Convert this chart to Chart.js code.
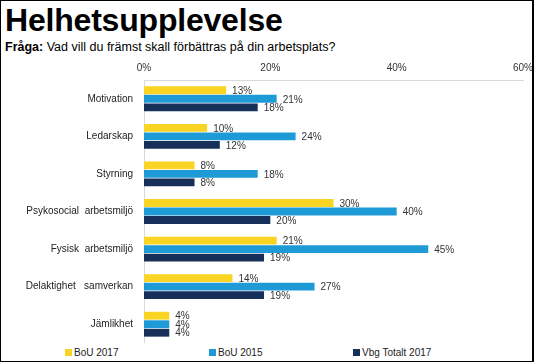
<!DOCTYPE html>
<html>
<head>
<meta charset="utf-8">
<script src="https://cdn.jsdelivr.net/npm/chart.js@4/dist/chart.umd.min.js"></script>
<style>
  body { margin: 0; background: #fff; font-family: "Liberation Sans", Arial, sans-serif; }
  #frame { position: relative; width: 534px; height: 362px; box-sizing: border-box; border: 1px solid #000; border-right-width: 2px; overflow: hidden; }
  #title { position: absolute; left: 4px; top: 1px; font-size: 32px; font-weight: bold; color: #000; letter-spacing: -0.2px; }
  #subtitle { position: absolute; left: 4px; top: 39px; font-size: 12.5px; color: #000; }
  #wrap { position: absolute; left: 0; top: 55px; width: 531px; height: 287px; }
  #legend { position: absolute; left: 64px; top: 346px; display: flex; font-size: 10px; color: #222; }
  #legend div { width: 144px; display: flex; align-items: center; }
  #legend span.box { display: inline-block; width: 7px; height: 7px; margin-right: 2px; }
</style>
</head>
<body>
<div id="frame">
  <div id="title">Helhetsupplevelse</div>
  <div id="subtitle"><b>Fråga:</b> Vad vill du främst skall förbättras på din arbetsplats?</div>
  <div id="wrap"><canvas id="chart"></canvas></div>
  <div id="legend"></div>
</div>
<script>
const categories = ['Motivation', 'Ledarskap', 'Styrning', 'Psykosocial  arbetsmiljö', 'Fysisk  arbetsmiljö', 'Delaktighet   samverkan', 'Jämlikhet'];
const bou2017 = [13, 10, 8, 30, 21, 14, 4];
const bou2015 = [21, 24, 18, 40, 45, 27, 4];
const vbg2017 = [18, 12, 8, 20, 19, 19, 4];
const xTicks = [0, 20, 40, 60];

const colors = ['#F9D423', '#1E9BD7', '#17305A'];
const names = ['BoU 2017', 'BoU 2015', 'Vbg Totalt 2017'];
const fontFamily = '"Liberation Sans", Arial, sans-serif';

// skriver värdet efter varje stapel
const valueLabels = {
  id: 'valueLabels',
  afterDatasetsDraw(chart) {
    const ctx = chart.ctx;
    ctx.save();
    ctx.font = '10px ' + fontFamily;
    ctx.fillStyle = '#333';
    ctx.textBaseline = 'middle';
    chart.data.datasets.forEach((ds, i) => {
      chart.getDatasetMeta(i).data.forEach((bar, j) => {
        ctx.fillText(ds.data[j] + '%', bar.x + 6, bar.y + 1);
      });
    });
    ctx.restore();
  }
};

const chart = new Chart(document.getElementById('chart'), {
  type: 'bar',
  data: {
    labels: categories,
    datasets: [bou2017, bou2015, vbg2017].map((d, i) => ({
      label: names[i],
      data: d,
      backgroundColor: colors[i],
      barPercentage: 0.92,
      categoryPercentage: 0.68
    }))
  },
  options: {
    indexAxis: 'y',
    responsive: true,
    maintainAspectRatio: false,
    animation: false,
    layout: { padding: { left: 0, top: 0, bottom: 0, right: 9 } },
    plugins: {
      legend: { display: false },
      tooltip: { enabled: false }
    },
    scales: {
      x: {
        position: 'top',
        min: 0,
        max: 60,
        afterBuildTicks: (s) => { s.ticks = xTicks.map(v => ({ value: v })); },
        afterFit: (s) => { s.height = 24; s.paddingLeft = 0; s.paddingRight = 0; },
        grid: { display: false, drawTicks: false },
        border: { display: true, color: '#d9d9d9' },
        ticks: {
          padding: 6,
          color: '#333',
          font: { family: fontFamily, size: 10 },
          callback: (v) => v + '%'
        }
      },
      y: {
        afterFit: (s) => { s.width = 143; s.paddingTop = 0; s.paddingBottom = 0; },
        grid: { display: false, drawTicks: false },
        border: { display: true, color: '#d9d9d9' },
        ticks: {
          padding: 11,
          color: '#222',
          font: { family: fontFamily, size: 10 }
        }
      }
    }
  },
  plugins: [valueLabels]
});

const legend = document.getElementById('legend');
chart.data.datasets.forEach((ds) => {
  legend.innerHTML += `<div><span class="box" style="background:${ds.backgroundColor}"></span>${ds.label}</div>`;
});
</script>
</body>
</html>
